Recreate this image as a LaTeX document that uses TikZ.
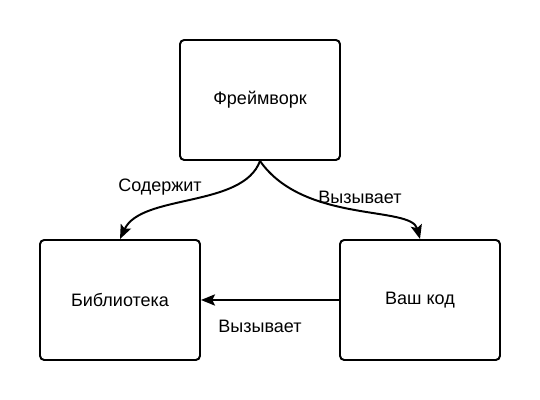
\documentclass[tikz,border=0pt]{standalone}
\usepackage{fontspec}
\setmainfont{Liberation Sans}
\usepackage{tikz}
\usetikzlibrary{arrows.meta,positioning}

\begin{document}
\begin{tikzpicture}[
	box/.style={draw,line width=1.4pt,rounded corners=3pt,minimum width=4cm,minimum height=3cm,font=\fontsize{12.8}{15}\selectfont},
	conn/.style={line width=1.4pt,-{Stealth[length=10pt,width=8pt,inset=2pt]}},
	lbl/.style={font=\fontsize{12.8}{15}\selectfont}]

% canvas
\useasboundingbox (0,0) rectangle (13.5,10);

% boxes
\draw (6.5,7.5) node[box] (fw) {Фреймворк};
\draw (3,2.5) node[box] (lib) {Библиотека};
\draw (10.5,2.5) node[box] (code) {Ваш код};

% labels
\draw (4,5.33) node[lbl] (contains) {Содержит}; %label
\draw (9,5.06) node[lbl] (calls1) {Вызывает}; %label
\draw (6.5,1.83) node[lbl] (calls2) {Вызывает}; %label

% connectors
\draw[conn] (fw.south) to[out=-110,in=65,looseness=0.8] (lib.north);
\draw[conn] (fw.south) to[out=-55,in=105,out looseness=1.1,in looseness=0.5] (code.north);
\draw[conn] (code.west) to[out=180,in=0] (lib.east);
\end{tikzpicture}
\end{document}
